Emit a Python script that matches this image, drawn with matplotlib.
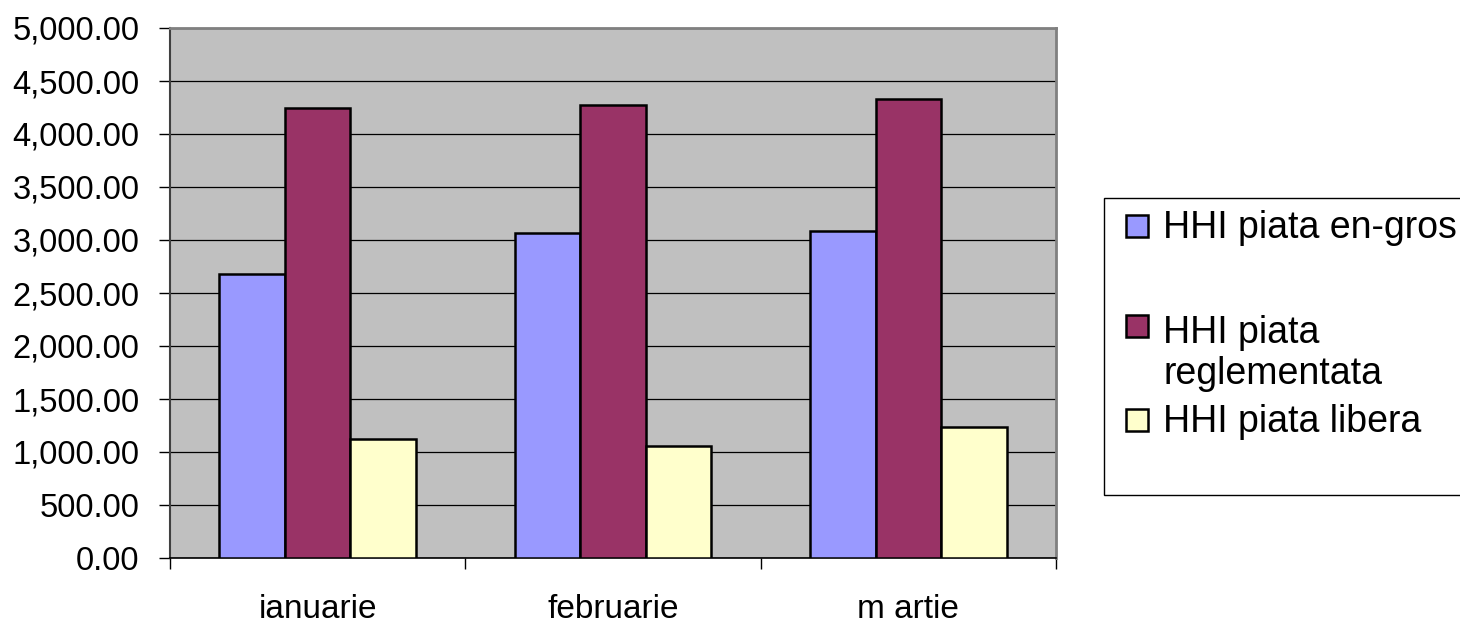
import matplotlib
matplotlib.use("Agg")
import matplotlib.pyplot as plt
import numpy as np
from matplotlib.ticker import FuncFormatter, FixedLocator, NullFormatter
from matplotlib.patches import Rectangle

plt.rcParams['font.family'] = ['Liberation Sans', 'DejaVu Sans']

categories = ["ianuarie", "februarie", "m artie"]
series_names = ["HHI piata en-gros", "HHI piata reglementata", "HHI piata libera"]
engros = [2680, 3066, 3088]
reglementata = [4245, 4276, 4330]
libera = [1127, 1053, 1232]
colors = ["#9999FF", "#993366", "#FFFFCC"]

W, H = 1460, 624
fig = plt.figure(figsize=(W / 100, H / 100), dpi=100)
ax = fig.add_axes([170 / W, (H - 558) / H, 886 / W, 530 / H])
ax.set_facecolor("#C0C0C0")

x = np.arange(len(categories))
w = 1 / 4.5
for i, (vals, col) in enumerate(zip([engros, reglementata, libera], colors)):
    ax.bar(x + (i - 1) * w, vals, width=w, color=col, edgecolor="black",
           linewidth=1.8, zorder=3)

ax.set_xlim(-0.5, len(categories) - 0.5)
ax.set_ylim(0, 5000)
ax.set_yticks(np.arange(0, 5001, 500))
ax.yaxis.set_major_formatter(FuncFormatter(lambda v, p: f"{v:,.2f}"))
ax.yaxis.grid(True, color="black", linewidth=0.9)
ax.set_axisbelow(True)

ax.xaxis.set_major_locator(FixedLocator(np.arange(-0.5, len(categories), 1.0)))
ax.xaxis.set_major_formatter(NullFormatter())
ax.xaxis.set_minor_locator(FixedLocator(x))
ax.set_xticklabels(categories, minor=True)
ax.tick_params(axis="x", which="minor", length=0, pad=26, labelsize=24)
ax.tick_params(axis="x", which="major", length=8, width=1, direction="out")
ax.tick_params(axis="y", length=8, width=1, direction="out", pad=14, labelsize=23.5)

for s in ["top", "right"]:
    ax.spines[s].set_color("#808080")
    ax.spines[s].set_linewidth(2)
ax.spines["left"].set_color("#404040")
ax.spines["left"].set_linewidth(1.5)
ax.spines["bottom"].set_color("black")
ax.spines["bottom"].set_linewidth(1.2)

def fx(px):
    return px / W

def fy(py):
    return (H - py) / H

# Legend box (extends past the right edge)
fig.patches.append(Rectangle((fx(1104), fy(495)), fx(1480) - fx(1104), fy(198) - fy(495),
                             transform=fig.transFigure, facecolor="white",
                             edgecolor="black", linewidth=1.0))
sq = 22
entries = [
    (colors[0], 225.5, [("HHI piata en-gros", 238)]),
    (colors[1], 325.5, [("HHI piata", 343), ("reglementata", 384)]),
    (colors[2], 419.5, [("HHI piata libera", 431.5)]),
]
for col, cy, lines in entries:
    fig.patches.append(Rectangle((fx(1126), fy(cy + sq / 2)), fx(sq), sq / H,
                                 transform=fig.transFigure, facecolor=col,
                                 edgecolor="black", linewidth=1.8))
    for txt, base in lines:
        fig.text(fx(1163), fy(base), txt, fontsize=27, ha="left", va="baseline")

fig.savefig("out.png", dpi=100)
